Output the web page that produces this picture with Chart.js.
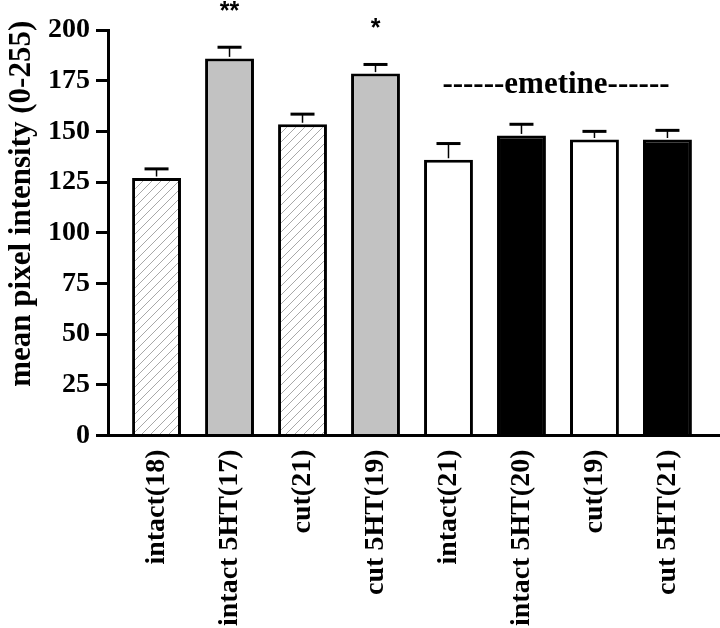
<!DOCTYPE html>
<html>
<head>
<meta charset="utf-8">
<script src="https://cdn.jsdelivr.net/npm/chart.js@4"></script>
<style>
  html, body { margin: 0; padding: 0; background: #fff; }
  canvas { display: block; }
</style>
</head>
<body>
<canvas id="c" width="720" height="628"></canvas>
<script>
// ---- data ----
const categories = ['intact(18)', 'intact 5HT(17)', 'cut(21)', 'cut 5HT(19)', 'intact(21)', 'intact 5HT(20)', 'cut(19)', 'cut 5HT(21)'];
const means = [127, 186, 153.5, 178.5, 136, 148, 146, 146];
const sem = [4.5, 5.5, 5, 4.5, 8, 5.5, 4, 4.5];
const significance = ['', '**', '', '*', '', '', '', ''];
const yTicks = [0, 25, 50, 75, 100, 125, 150, 175, 200];
const groupLabel = '------emetine------';
const groupMembers = [4, 5, 6, 7];
const yTitle = 'mean pixel intensity (0-255)';

// ---- styles ----
const fillKinds = ['hatch', 'gray', 'hatch', 'gray', 'white', 'black', 'white', 'black'];

function hatchPattern() {
  const s = 9;
  const cv = document.createElement('canvas');
  cv.width = s; cv.height = s;
  const g = cv.getContext('2d');
  g.fillStyle = '#fff';
  g.fillRect(0, 0, s, s);
  g.strokeStyle = '#a8a8a8';
  g.lineWidth = 1;
  g.beginPath();
  g.moveTo(0, s); g.lineTo(s, 0);
  g.moveTo(-s / 2, s / 2); g.lineTo(s / 2, -s / 2);
  g.moveTo(s / 2, s * 1.5); g.lineTo(s * 1.5, s / 2);
  g.stroke();
  return g.createPattern(cv, 'repeat');
}
const hatch = hatchPattern();
const fillMap = { hatch: hatch, gray: '#c2c2c2', white: '#ffffff', black: '#000000' };

const serif = '"Liberation Serif", "Times New Roman", serif';

const overlay = {
  id: 'overlay',
  afterDatasetsDraw(chart) {
    const ctx = chart.ctx;
    const meta = chart.getDatasetMeta(0);
    const ys = chart.scales.y;
    ctx.save();
    meta.data.forEach((bar, i) => {
      const top = ys.getPixelForValue(means[i]);
      const capY = ys.getPixelForValue(means[i] + sem[i]);
      ctx.strokeStyle = '#000';
      ctx.lineWidth = 1.5;
      ctx.beginPath();
      ctx.moveTo(bar.x, top - 1.5);
      ctx.lineTo(bar.x, capY);
      ctx.stroke();
      ctx.lineWidth = 3;
      ctx.beginPath();
      ctx.moveTo(bar.x - 12, capY);
      ctx.lineTo(bar.x + 12, capY);
      ctx.stroke();
      if (significance[i]) {
        ctx.fillStyle = '#000';
        ctx.font = 'bold 25px "Liberation Sans", Arial, sans-serif';
        ctx.textAlign = 'center';
        ctx.textBaseline = 'alphabetic';
        ctx.fillText(significance[i], bar.x, capY - 28);
      }
    });
    const xs = groupMembers.map(i => meta.data[i].x);
    const cx = (Math.min(...xs) + Math.max(...xs)) / 2;
    ctx.fillStyle = '#000';
    ctx.font = 'bold 31px ' + serif;
    ctx.textAlign = 'center';
    ctx.textBaseline = 'alphabetic';
    ctx.fillText(groupLabel, cx - 2, ys.getPixelForValue(169));

    // y-axis title (real text), rotated
    ctx.save();
    ctx.translate(22, ys.top + (ys.bottom - ys.top) / 2 - 29);
    ctx.rotate(-Math.PI / 2);
    ctx.font = 'bold 31px ' + serif;
    ctx.textAlign = 'center';
    ctx.textBaseline = 'middle';
    ctx.fillText(yTitle, 0, 0);
    ctx.restore();
    ctx.restore();
  }
};

new Chart(document.getElementById('c'), {
  type: 'bar',
  data: {
    datasets: [{
      data: means.map((v, i) => ({ x: i, y: v })),
      backgroundColor: fillKinds.map(k => fillMap[k]),
      borderColor: '#000',
      borderWidth: 3,
      borderSkipped: 'start',
      barPercentage: 0.67,
      categoryPercentage: 1.0
    }]
  },
  options: {
    responsive: false,
    animation: false,
    devicePixelRatio: 1,
    layout: { padding: { top: 30, right: 0, left: 0, bottom: 0 } },
    plugins: { legend: { display: false }, tooltip: { enabled: false } },
    scales: {
      x: {
        type: 'linear',
        offset: false,
        min: -0.665,
        max: 7.72,
        afterBuildTicks(scale) { scale.ticks = categories.map((_, i) => ({ value: i })); },
        afterFit(scale) { scale.height = 192.5; },
        ticks: {
          autoSkip: false,
          minRotation: 90,
          maxRotation: 90,
          padding: 14,
          color: '#000',
          font: { family: serif, size: 28, weight: 'bold' },
          callback: (v) => categories[v] !== undefined ? categories[v] : ''
        },
        grid: { display: false, drawTicks: false, offset: false },
        border: { display: true, color: '#000', width: 3 }
      },
      y: {
        min: 0,
        max: 200,
        afterBuildTicks(scale) { scale.ticks = yTicks.map(v => ({ value: v })); },
        afterFit(scale) { scale.width = 108; },
        ticks: {
          padding: 6,
          color: '#000',
          font: { family: serif, size: 28, weight: 'bold' }
        },
        grid: { display: true, drawOnChartArea: false, drawTicks: true, tickLength: 12, lineWidth: 3, color: '#000' },
        border: { display: true, color: '#000', width: 3 },
        title: { display: false }
      }
    }
  },
  plugins: [overlay]
});
</script>
</body>
</html>
